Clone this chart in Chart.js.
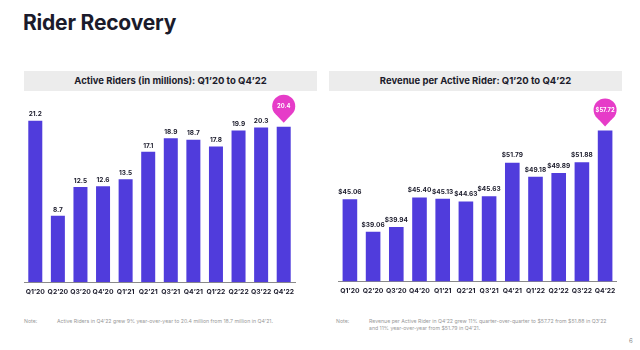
<!DOCTYPE html>
<html>
<head>
<meta charset="utf-8">
<script src="https://cdn.jsdelivr.net/npm/chart.js@4"></script>
<style>
  body { margin: 0; width: 640px; height: 350px; background: #fff; position: relative; overflow: hidden;
         font-family: Inter, "Noto Sans", sans-serif; color: #1b1b2b; }
  .title { position: absolute; left: 23px; top: 10px; font-size: 21px; font-weight: 700; letter-spacing: -0.2px; }
  .head { position: absolute; top: 71px; height: 20px; line-height: 20px; background: #ececec;
          text-align: center; font-size: 9.5px; font-weight: 700; }
  .box { position: absolute; top: 90px; height: 226px; }
  .note { position: absolute; font-size: 5.2px; color: #999; line-height: 7px; }
  .pg { position: absolute; left: 629px; top: 337px; font-size: 6px; color: #888; }
</style>
</head>
<body>
<div class="title">Rider Recovery</div>
<div class="head" style="left:24px;width:293px">Active Riders (in millions): Q1’20 to Q4’22</div>
<div class="head" style="left:329px;width:293px">Revenue per Active Rider: Q1’20 to Q4’22</div>
<div class="box" style="left:16px;width:290px"><canvas id="ridersChart"></canvas></div>
<div class="box" style="left:330px;width:295px"><canvas id="revenueChart"></canvas></div>
<div class="note" style="left:24px;top:318px">Note:</div>
<div class="note" style="left:57px;top:318px">Active Riders in Q4’22 grew 9% year-over-year to 20.4 million from 18.7 million in Q4’21.</div>
<div class="note" style="left:336px;top:318px">Note:</div>
<div class="note" style="left:369px;top:318px">Revenue per Active Rider in Q4’22 grew 11% quarter-over-quarter to $57.72 from $51.88 in Q3’22<br>and 11% year-over-year from $51.79 in Q4’21.</div>
<div class="pg">6</div>
<script>
const quarters = ['Q1’20', 'Q2’20', 'Q3’20', 'Q4’20', 'Q1’21', 'Q2’21', 'Q3’21', 'Q4’21', 'Q1’22', 'Q2’22', 'Q3’22', 'Q4’22'];
const riders = [21.2, 8.7, 12.5, 12.6, 13.5, 17.1, 18.9, 18.7, 17.8, 19.9, 20.3, 20.4];
const revenue = [45.06, 39.06, 39.94, 45.40, 45.13, 44.63, 45.63, 51.79, 49.18, 49.89, 51.88, 57.72];

const purple = '#503cdc';
const pink = '#e63cc8';
const fontFam = 'Inter, "Noto Sans", sans-serif';

// value labels above bars, last bar gets the pink bubble
const valueLabels = {
  id: 'valueLabels',
  afterDatasetsDraw(chart, args, opts) {
    const ctx = chart.ctx;
    const bars = chart.getDatasetMeta(0).data;
    const vals = chart.data.datasets[0].data;
    ctx.save();
    ctx.textAlign = 'center';
    bars.forEach((bar, i) => {
      const txt = opts.fmt(vals[i]);
      if (i === bars.length - 1) {
        const tip = bar.y - 4;
        const r = 11.5;
        const cy = tip - 16.5;
        ctx.fillStyle = pink;
        ctx.beginPath();
        ctx.arc(bar.x, cy, r, 0, Math.PI * 2);
        ctx.fill();
        ctx.beginPath();
        ctx.moveTo(bar.x - r * 0.62, cy + r * 0.78);
        ctx.lineTo(bar.x + r * 0.62, cy + r * 0.78);
        ctx.lineTo(bar.x, tip);
        ctx.closePath();
        ctx.fill();
        ctx.fillStyle = '#fff';
        ctx.font = 'bold 5.8px ' + fontFam;
        ctx.textBaseline = 'middle';
        ctx.fillText(txt, bar.x, cy + 0.5);
      } else {
        ctx.fillStyle = '#1b1b2b';
        ctx.font = 'bold 6.5px ' + fontFam;
        ctx.textBaseline = 'bottom';
        ctx.fillText(txt, bar.x, bar.y - opts.gap);
      }
    });
    ctx.restore();
  }
};

function makeOptions(yMin, yMax, padding, fmt, gap) {
  return {
    responsive: true,
    maintainAspectRatio: false,
    animation: false,
    layout: { padding: padding },
    scales: {
      x: {
        grid: { display: false, drawTicks: false },
        border: { display: true, color: '#8a8a8a', width: 1 },
        ticks: { color: '#1b1b2b', padding: 6, maxRotation: 0, autoSkip: false,
                 font: { family: fontFam, size: 6.8, weight: 'bold' } }
      },
      y: { display: false, min: yMin, max: yMax }
    },
    plugins: {
      legend: { display: false },
      tooltip: { enabled: false },
      valueLabels: { fmt: fmt, gap: gap }
    }
  };
}

new Chart(document.getElementById('ridersChart'), {
  type: 'bar',
  data: {
    labels: quarters,
    datasets: [{
      data: riders,
      backgroundColor: purple,
      barPercentage: 0.62,
      categoryPercentage: 1
    }]
  },
  options: makeOptions(0, 24, { left: 8, right: 11, top: 9.3, bottom: 13.7 }, v => v.toFixed(1), 3),
  plugins: [valueLabels]
});

new Chart(document.getElementById('revenueChart'), {
  type: 'bar',
  data: {
    labels: quarters,
    datasets: [{
      data: revenue,
      backgroundColor: purple,
      barPercentage: 0.63,
      categoryPercentage: 1
    }]
  },
  options: makeOptions(30, 60, { left: 8.3, right: 8.3, top: 28, bottom: 14.7 }, v => '$' + v.toFixed(2), 4),
  plugins: [valueLabels]
});
</script>
</body>
</html>
